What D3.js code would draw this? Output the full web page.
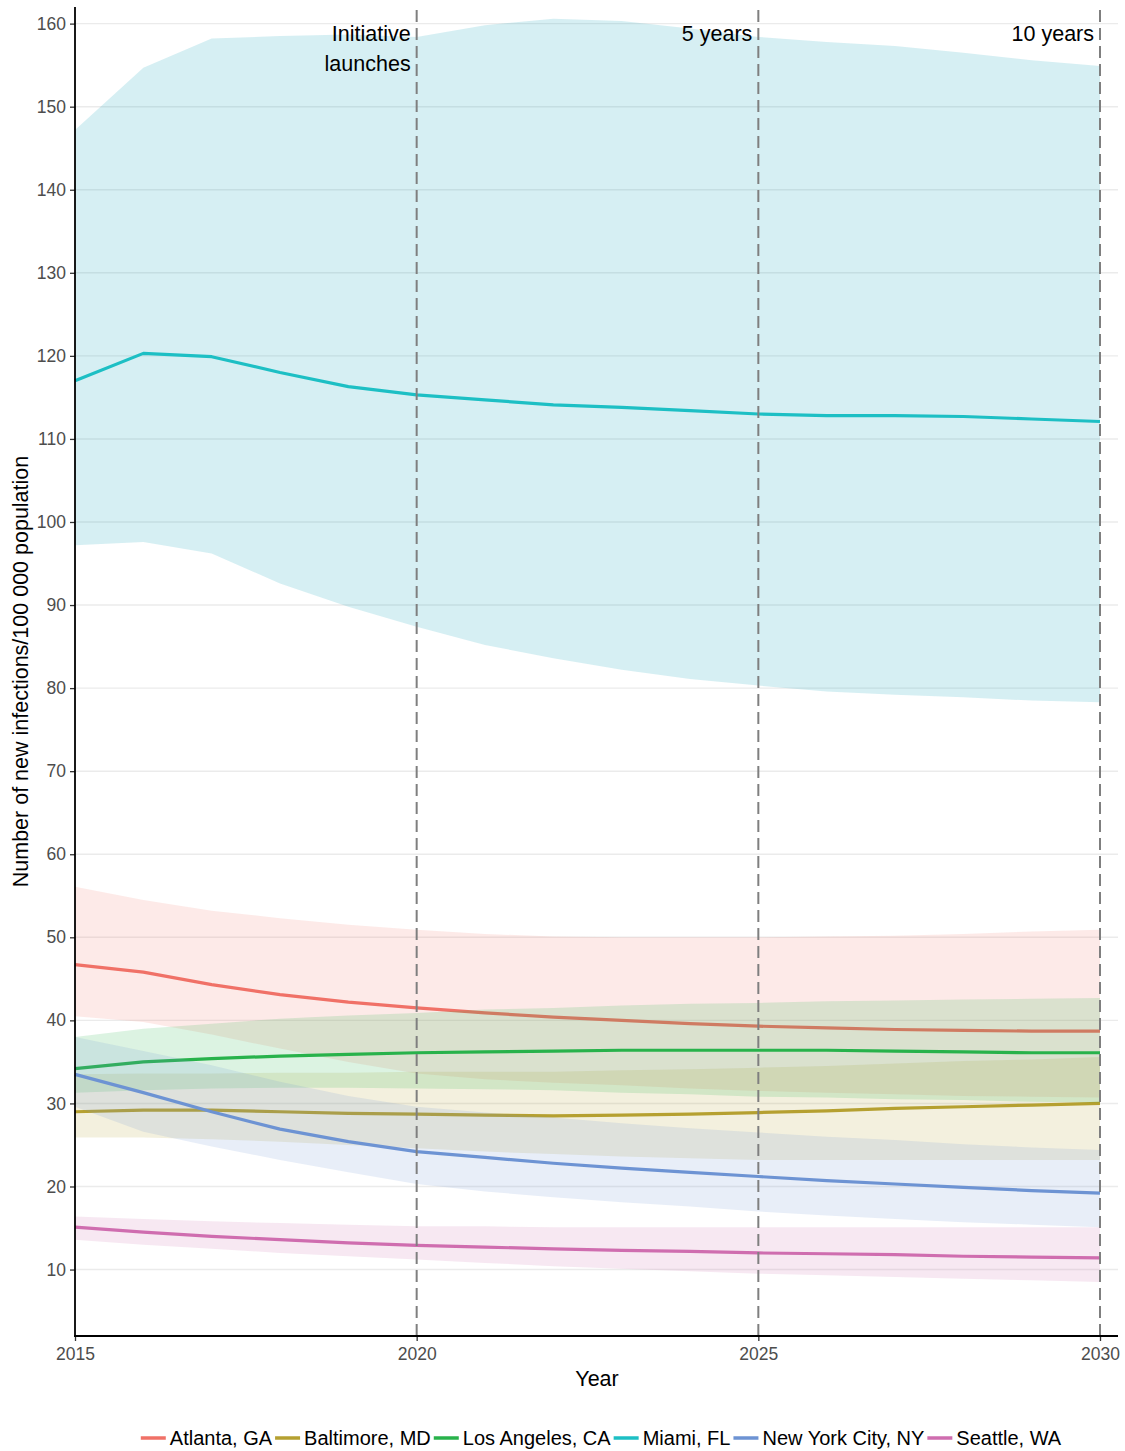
<!DOCTYPE html>
<html><head><meta charset="utf-8">
<script src="https://cdn.jsdelivr.net/npm/d3@7"></script>
<style>
body{margin:0;background:#fff}
text{font-family:"Liberation Sans",Arial,sans-serif}
</style>
</head><body>
<svg id="chart" width="1125" height="1451"></svg>
<script>
// ---------- data ----------
const years = [2015,2016,2017,2018,2019,2020,2021,2022,2023,2024,2025,2026,2027,2028,2029,2030];
const cities = ["Atlanta, GA","Baltimore, MD","Los Angeles, CA","Miami, FL","New York City, NY","Seattle, WA"];
const colors = ["#F07167","#B5A030","#28B24B","#1DBFC4","#6D93D3","#CF6DAF"];
const ribbonColors = ["#F07167","#B5A030","#28B24B","#1AA5BA","#6D93D3","#CF6DAF"];
const ribbonOpacity = [0.15,0.16,0.16,0.18,0.16,0.16];

const atlantaMid   = [46.7,45.8,44.3,43.1,42.2,41.5,40.9,40.4,40.0,39.6,39.3,39.1,38.9,38.8,38.7,38.7];
const atlantaUpper = [56.1,54.5,53.2,52.3,51.5,50.9,50.4,50.1,50.0,50.0,50.0,50.1,50.2,50.4,50.7,50.9];
const atlantaLower = [40.5,39.8,38.3,36.6,35.0,33.6,32.9,32.5,32.2,31.8,31.5,31.3,31.1,30.9,30.8,30.7];

const baltimoreMid   = [29.0,29.2,29.2,29.0,28.8,28.7,28.6,28.5,28.6,28.7,28.9,29.1,29.4,29.6,29.8,30.0];
const baltimoreUpper = [33.5,33.6,33.6,33.7,33.7,33.8,33.8,33.8,34.0,34.1,34.3,34.5,34.8,35.1,35.3,35.6];
const baltimoreLower = [25.9,25.9,25.7,25.4,25.0,24.6,24.2,23.9,23.6,23.4,23.2,23.2,23.2,23.2,23.2,23.2];

const laMid   = [34.2,35.0,35.4,35.7,35.9,36.1,36.2,36.3,36.4,36.4,36.4,36.4,36.3,36.2,36.1,36.1];
const laUpper = [38.0,39.0,39.6,40.2,40.6,40.9,41.3,41.5,41.8,42.0,42.1,42.3,42.4,42.5,42.6,42.7];
const laLower = [31.3,31.6,31.8,31.9,31.9,31.8,31.7,31.6,31.3,31.1,30.8,30.7,30.5,30.4,30.2,30.1];

const miamiMid   = [117.0,120.3,119.9,118.0,116.3,115.3,114.7,114.1,113.8,113.4,113.0,112.8,112.8,112.7,112.4,112.1];
const miamiUpper = [147.2,154.7,158.2,158.5,158.7,158.4,159.8,160.6,160.3,159.4,158.4,157.8,157.3,156.5,155.6,154.9];
const miamiLower = [97.2,97.6,96.2,92.6,89.8,87.4,85.2,83.6,82.2,81.1,80.3,79.6,79.2,78.9,78.5,78.3];

const nycMid   = [33.5,31.3,29.0,26.9,25.4,24.2,23.5,22.8,22.2,21.7,21.2,20.7,20.3,19.9,19.5,19.2];
const nycUpper = [38.0,36.3,34.6,32.6,30.9,29.6,28.9,28.3,27.6,27.0,26.5,26.0,25.6,25.1,24.7,24.4];
const nycLower = [29.6,26.6,24.8,23.2,21.7,20.3,19.4,18.7,18.1,17.6,17.0,16.5,16.1,15.7,15.4,15.1];

const seattleMid   = [15.1,14.5,14.0,13.6,13.2,12.9,12.7,12.5,12.3,12.2,12.0,11.9,11.8,11.6,11.5,11.4];
const seattleUpper = [16.4,16.1,15.8,15.6,15.4,15.2,15.2,15.1,15.1,15.1,15.1,15.1,15.1,15.1,15.1,15.1];
const seattleLower = [13.6,13.0,12.5,12.0,11.6,11.2,10.8,10.4,10.1,9.8,9.5,9.3,9.1,8.9,8.7,8.5];

const yTicks = [10,20,30,40,50,60,70,80,90,100,110,120,130,140,150,160];
const xTicks = [2015,2020,2025,2030];
const markerYears = [2020,2025,2030];
const markerLabels = [["Initiative","launches"],["5 years"],["10 years"]];
const xTitle = "Year";
const yTitle = "Number of new infections/100 000 population";

const seriesMid = [atlantaMid,baltimoreMid,laMid,miamiMid,nycMid,seattleMid];
const seriesUpper = [atlantaUpper,baltimoreUpper,laUpper,miamiUpper,nycUpper,seattleUpper];
const seriesLower = [atlantaLower,baltimoreLower,laLower,miamiLower,nycLower,seattleLower];

// ---------- layout ----------
const svg = d3.select("#chart");
svg.append("rect").attr("width",1125).attr("height",1451).attr("fill","#fff");
const pLeft = 75, pRight = 1118, pTop = 7, pBottom = 1336;
const x = d3.scaleLinear().domain([2015,2030]).range([75,1100]);
const y = d3.scaleLinear().domain([2,162]).range([pBottom,pTop]);

// gridlines
svg.append("g").selectAll("line").data(yTicks).join("line")
  .attr("x1",pLeft).attr("x2",pRight)
  .attr("y1",d=>y(d)).attr("y2",d=>y(d))
  .attr("stroke","#EBEBEB").attr("stroke-width",1.4);

// series
const area = d3.area().x(d=>x(d.year)).y0(d=>y(d.lo)).y1(d=>y(d.hi));
const line = d3.line().x(d=>x(d.year)).y(d=>y(d.v));
cities.forEach((c,i)=>{
  const band = years.map((yr,j)=>({year:yr,lo:seriesLower[i][j],hi:seriesUpper[i][j]}));
  const pts = years.map((yr,j)=>({year:yr,v:seriesMid[i][j]}));
  svg.append("path").datum(band).attr("d",area)
    .attr("fill",ribbonColors[i]).attr("fill-opacity",ribbonOpacity[i]);
  svg.append("path").datum(pts).attr("d",line)
    .attr("fill","none").attr("stroke",colors[i]).attr("stroke-width",3.2)
    .attr("stroke-linejoin","round");
});

// dashed vertical markers
svg.append("g").selectAll("line").data(markerYears).join("line")
  .attr("x1",d=>x(d)).attr("x2",d=>x(d))
  .attr("y1",pBottom).attr("y2",pTop)
  .attr("stroke","#7F7F7F").attr("stroke-width",2)
  .attr("stroke-dasharray","12,6");

// marker labels
markerYears.forEach((yr,i)=>{
  markerLabels[i].forEach((t,k)=>{
    svg.append("text").attr("x",x(yr)-6).attr("y",41+k*30)
      .attr("text-anchor","end").attr("font-size",21.5).attr("fill","#000").text(t);
  });
});

// axes
const yAxis = d3.axisLeft(y).tickValues(yTicks).tickSize(5).tickPadding(4);
const gy = svg.append("g").attr("transform",`translate(${pLeft},0)`).call(yAxis);
gy.select(".domain").remove();
gy.selectAll(".tick line").attr("stroke","#333").attr("stroke-width",1.3);
gy.selectAll(".tick text").attr("fill","#4D4D4D").attr("font-size",17.5)
  .attr("font-family","'Liberation Sans',Arial,sans-serif");

const xAxis = d3.axisBottom(x).tickValues(xTicks).tickFormat(d3.format("d")).tickSize(5).tickPadding(7);
const gx = svg.append("g").attr("transform",`translate(0,${pBottom})`).call(xAxis);
gx.select(".domain").remove();
gx.selectAll(".tick line").attr("stroke","#333").attr("stroke-width",1.3);
gx.selectAll(".tick text").attr("fill","#4D4D4D").attr("font-size",17.5)
  .attr("font-family","'Liberation Sans',Arial,sans-serif");

svg.append("line").attr("x1",pLeft).attr("x2",pLeft).attr("y1",pTop).attr("y2",pBottom+1)
  .attr("stroke","#000").attr("stroke-width",1.8);
svg.append("line").attr("x1",pLeft-1).attr("x2",pRight).attr("y1",pBottom).attr("y2",pBottom)
  .attr("stroke","#000").attr("stroke-width",1.8);

// titles
svg.append("text").attr("x",597).attr("y",1386).attr("text-anchor","middle")
  .attr("font-size",21.5).attr("fill","#000").text(xTitle);
svg.append("text").attr("transform","translate(28,671.5) rotate(-90)")
  .attr("text-anchor","middle").attr("font-size",21.5).attr("fill","#000").text(yTitle);

// legend
const lg = svg.append("g");
let cx = 0;
cities.forEach((c,i)=>{
  lg.append("line").attr("x1",cx).attr("x2",cx+25).attr("y1",0).attr("y2",0)
    .attr("stroke",colors[i]).attr("stroke-width",3.5);
  const t = lg.append("text").attr("x",cx+29).attr("y",7).attr("font-size",20)
    .attr("fill","#000").text(c);
  cx += 29 + t.node().getComputedTextLength() + 3;
});
const total = cx - 3;
lg.attr("transform",`translate(${601 - total/2},1438)`);
</script>
</body></html>
